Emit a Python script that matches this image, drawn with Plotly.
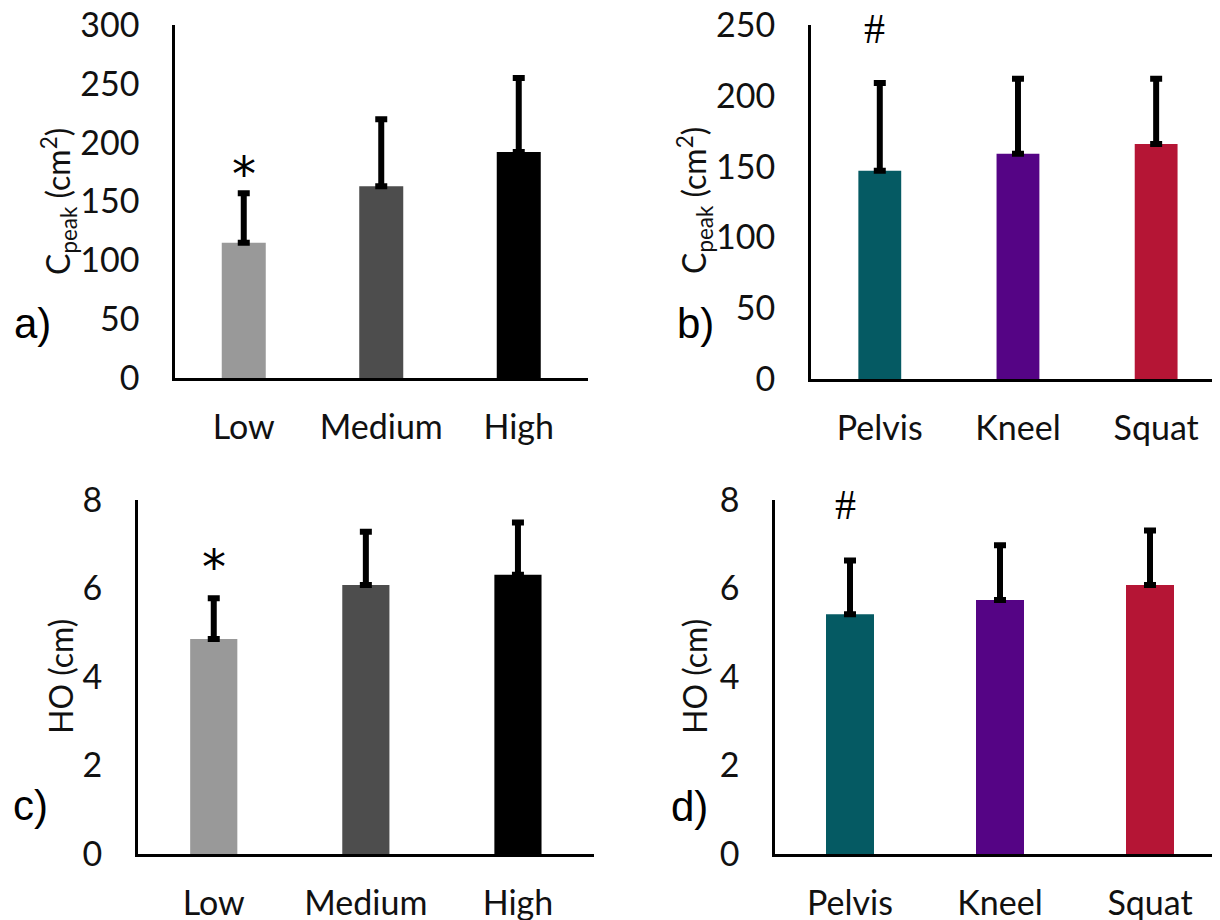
import plotly.graph_objects as go

# ---- data ----
load_cats = ["Low", "Medium", "High"]
pos_cats = ["Pelvis", "Kneel", "Squat"]

cpeak_load_mean = [115, 163, 192]
cpeak_load_sd = [42, 57, 63]
cpeak_pos_mean = [147, 159, 166]
cpeak_pos_sd = [62, 53, 46]

ho_load_mean = [4.86, 6.08, 6.31]
ho_load_sd = [0.92, 1.20, 1.18]
ho_pos_mean = [5.42, 5.74, 6.08]
ho_pos_sd = [1.21, 1.24, 1.23]

load_colors = ["#999999", "#4d4d4d", "#000000"]
pos_colors = ["#055a63", "#550485", "#b51535"]

# significance markers: (category, y value, symbol)
sig_a = ("Low", 180, "*")
sig_b = ("Pelvis", 246, "#")
sig_c = ("Low", 6.66, "*")
sig_d = ("Pelvis", 7.85, "#")

W, H = 1220, 920
OFF = 8  # page body margin
TICKFONT = dict(family="Lato", size=34, color="#111111")
TITLEFONT = dict(family="Lato", size=32, color="#111111")


def px(x):
    return (x - OFF) / W


def py(y):
    return 1 - (y - OFF) / H


fig = go.Figure()

panels = [
    # cats, means, sds, colors, xaxis, yaxis, width
    (load_cats, cpeak_load_mean, cpeak_load_sd, load_colors, "x", "y", 0.32),
    (pos_cats, cpeak_pos_mean, cpeak_pos_sd, pos_colors, "x2", "y2", 0.31),
    (load_cats, ho_load_mean, ho_load_sd, load_colors, "x3", "y3", 0.31),
    (pos_cats, ho_pos_mean, ho_pos_sd, pos_colors, "x4", "y4", 0.32),
]

for cats, means, sds, cols, xa, ya, bw in panels:
    fig.add_trace(go.Bar(
        x=cats, y=means, width=bw,
        marker=dict(color=cols, line=dict(width=0)),
        error_y=dict(type="data", symmetric=False, array=sds,
                     arrayminus=[0] * len(sds), color="black",
                     thickness=6, width=6),
        xaxis=xa, yaxis=ya, showlegend=False,
    ))


def xax(domain, rng, anchor):
    return dict(domain=domain, range=rng, anchor=anchor, type="category",
                showline=True, linecolor="black", linewidth=2.5,
                showgrid=False, zeroline=False, ticks="", automargin=False,
                ticklabeloverflow="allow",
                tickfont=TICKFONT, ticklabelstandoff=17, fixedrange=True)


def yax(domain, rng, dtick, anchor):
    return dict(domain=domain, range=rng, anchor=anchor, dtick=dtick,
                showline=True, linecolor="black", linewidth=2.5,
                showgrid=False, zeroline=False, ticks="", automargin=False,
                ticklabeloverflow="allow",
                tickfont=TICKFONT, ticklabelstandoff=26, fixedrange=True)


fig.update_layout(
    width=W, height=H,
    margin=dict(l=0, r=0, t=0, b=0, autoexpand=False),
    paper_bgcolor="white", plot_bgcolor="white",
    xaxis=xax([px(175), px(587.5)], [-0.5, 2.5], "y"),
    yaxis=yax([py(378), py(25)], [0, 300], 50, "x"),
    xaxis2=xax([px(810.7), 1.0], [-0.5, 2.52], "y2"),
    yaxis2=yax([py(379), py(25)], [0, 250], 50, "x2"),
    xaxis3=xax([px(137.7), px(594)], [-0.5, 2.5], "y3"),
    yaxis3=yax([py(854), py(500)], [0, 8], 2, "x3"),
    xaxis4=xax([px(775), 1.0], [-0.5, 2.52], "y4"),
    yaxis4=yax([py(854), py(500)], [0, 8], 2, "x4"),
)

annotations = []
# significance symbols
for (cat, yv, sym), xa, ya in [(sig_a, "x", "y"), (sig_b, "x2", "y2"),
                               (sig_c, "x3", "y3"), (sig_d, "x4", "y4")]:
    if sym == "*":
        font = dict(family="DejaVu Sans", size=48, color="black")
        yshift = -8
        xshift = 0
    else:
        font = dict(family="Liberation Serif", size=42, color="black")
        yshift = 2
        xshift = -5
    annotations.append(dict(x=cat, y=yv, xref=xa, yref=ya, text=sym,
                            showarrow=False, font=font, yanchor="middle",
                            xanchor="center", yshift=yshift, xshift=xshift))

# panel letters
for letter, x, y in [("a)", 32, 323), ("b)", 695, 323), ("c)", 30, 805), ("d)", 689, 806)]:
    annotations.append(dict(x=px(x), y=py(y), xref="paper", yref="paper",
                            text=letter, showarrow=False,
                            font=dict(family="Liberation Sans", size=42, color="black"),
                            xanchor="center", yanchor="middle"))

# axis titles
for title, x, y in [("C<sub>peak</sub> (cm<sup>2</sup>)", 58, 201),
                    ("C<sub>peak</sub> (cm<sup>2</sup>)", 694, 201),
                    ("HO (cm)", 60, 677),
                    ("HO (cm)", 694, 677)]:
    annotations.append(dict(x=px(x), y=py(y), xref="paper", yref="paper",
                            text=title, showarrow=False, textangle=-90,
                            font=TITLEFONT, xanchor="center", yanchor="middle"))

fig.update_layout(annotations=annotations)

fig.write_html("out.html")
